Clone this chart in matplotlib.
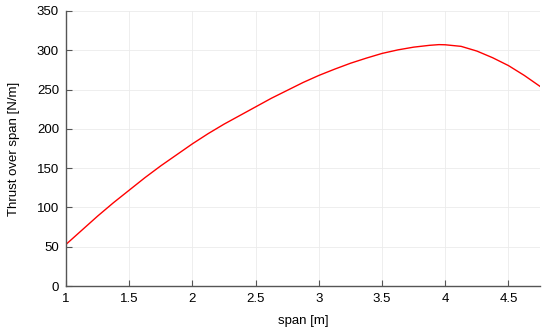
import numpy as np
import matplotlib; matplotlib.use('Agg'); import matplotlib.pyplot as plt

plt.rcParams['font.family'] = ['Liberation Sans', 'DejaVu Sans']

# span [m] vs thrust per span [N/m]
span = [1.0, 1.125, 1.25, 1.375, 1.5, 1.625, 1.75, 1.875, 2.0, 2.125, 2.25, 2.375,
        2.5, 2.625, 2.75, 2.875, 3.0, 3.125, 3.25, 3.375, 3.5, 3.625, 3.75, 3.875,
        3.95, 4.0, 4.125, 4.25, 4.375, 4.5, 4.625, 4.75]
thrust = [53, 71, 89, 106, 122, 138, 153, 167, 181, 194, 206, 217,
          228, 239, 249, 259, 268, 276, 283.5, 290, 296, 300.5, 304, 306.3,
          307.2, 307, 305, 299, 290.5, 280.5, 268, 254]

fig = plt.figure(figsize=(5.5, 3.33), dpi=100)
ax = fig.add_axes([0.12, 0.141, 0.862, 0.826])
ax.plot(span, thrust, color='red', lw=1.0)

ax.set_xlim(1, 4.75); ax.set_ylim(0, 350)
ax.set_xticks([1, 1.5, 2, 2.5, 3, 3.5, 4, 4.5])
ax.set_xticklabels(['1', '1.5', '2', '2.5', '3', '3.5', '4', '4.5'])
ax.set_yticks(np.arange(0, 351, 50))
ax.grid(True, color='#ebebeb', lw=0.6)
ax.set_axisbelow(True)
for s in ['top', 'right']: ax.spines[s].set_visible(False)
for s in ['left', 'bottom']:
    ax.spines[s].set_color('#555555'); ax.spines[s].set_linewidth(1.0)
ax.tick_params(direction='in', length=4, width=0.8, color='#555555', labelsize=9.5, pad=5)
ax.set_xlabel('span [m]', fontsize=9.5, labelpad=7)
ax.set_ylabel('Thrust over span [N/m]', fontsize=9.5, labelpad=12)

plt.savefig('out.png', dpi=100)
